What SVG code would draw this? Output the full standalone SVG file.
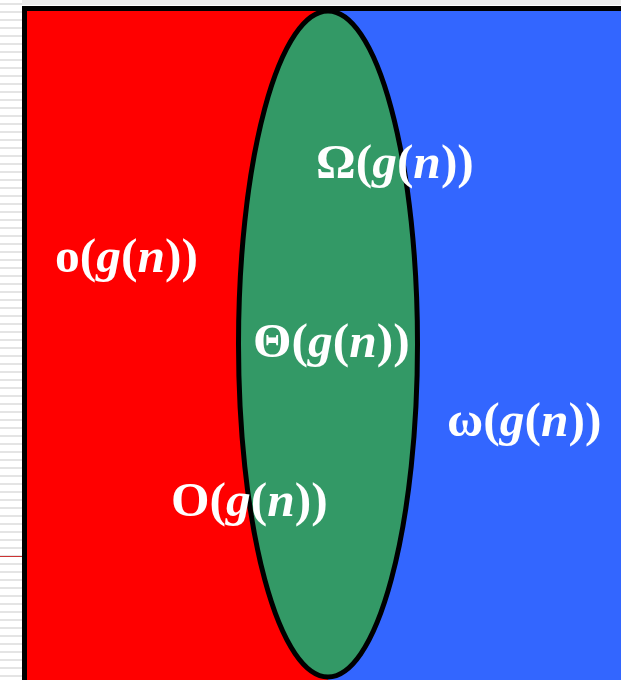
<svg xmlns="http://www.w3.org/2000/svg" width="621" height="680" viewBox="0 0 621 680">
  <defs>
    <pattern id="stripes" x="0" y="0" width="22" height="8" patternUnits="userSpaceOnUse">
      <rect x="0" y="0" width="22" height="8" fill="#ffffff"/>
      <rect x="0" y="3" width="22" height="2" fill="#e4e4e4"/>
    </pattern>
  </defs>
  <style>
    .lbl { font-family: "Liberation Serif", "Times New Roman", serif; font-weight: bold; font-size: 49.5px; fill: #ffffff; }
    .it { font-style: italic; }
  </style>
  <rect x="0" y="0" width="621" height="680" fill="#ffffff"/>
  <rect x="0" y="0" width="22" height="680" fill="url(#stripes)"/>
  <rect x="22" y="0" width="599" height="5" fill="#ececec"/>
  <line x1="0" y1="556.5" x2="22" y2="556.5" stroke="#cc3333" stroke-width="1"/>
  <g id="frame">
    <rect x="22" y="6" width="599" height="680" fill="#000000"/>
    <rect x="27" y="11" width="301" height="680" fill="#ff0000"/>
    <rect x="328" y="11" width="293" height="680" fill="#3366ff"/>
  </g>
  <g id="theta-set">
    <ellipse cx="328" cy="344" rx="89.5" ry="333" fill="#339966" stroke="#000000" stroke-width="5"/>
  </g>
  <g id="labels">
    <text id="little-o" class="lbl" x="55" y="272">o(<tspan class="it">g</tspan>(<tspan class="it">n</tspan>))</text>
    <text id="omega" class="lbl" x="316" y="178">Ω(<tspan class="it">g</tspan>(<tspan class="it">n</tspan>))</text>
    <text id="theta" class="lbl" x="253" y="357">Θ(<tspan class="it">g</tspan>(<tspan class="it">n</tspan>))</text>
    <text id="little-omega" class="lbl" x="447" y="436">ω(<tspan class="it">g</tspan>(<tspan class="it">n</tspan>))</text>
    <text id="big-o" class="lbl" x="171" y="516">O(<tspan class="it">g</tspan>(<tspan class="it">n</tspan>))</text>
  </g>
</svg>
